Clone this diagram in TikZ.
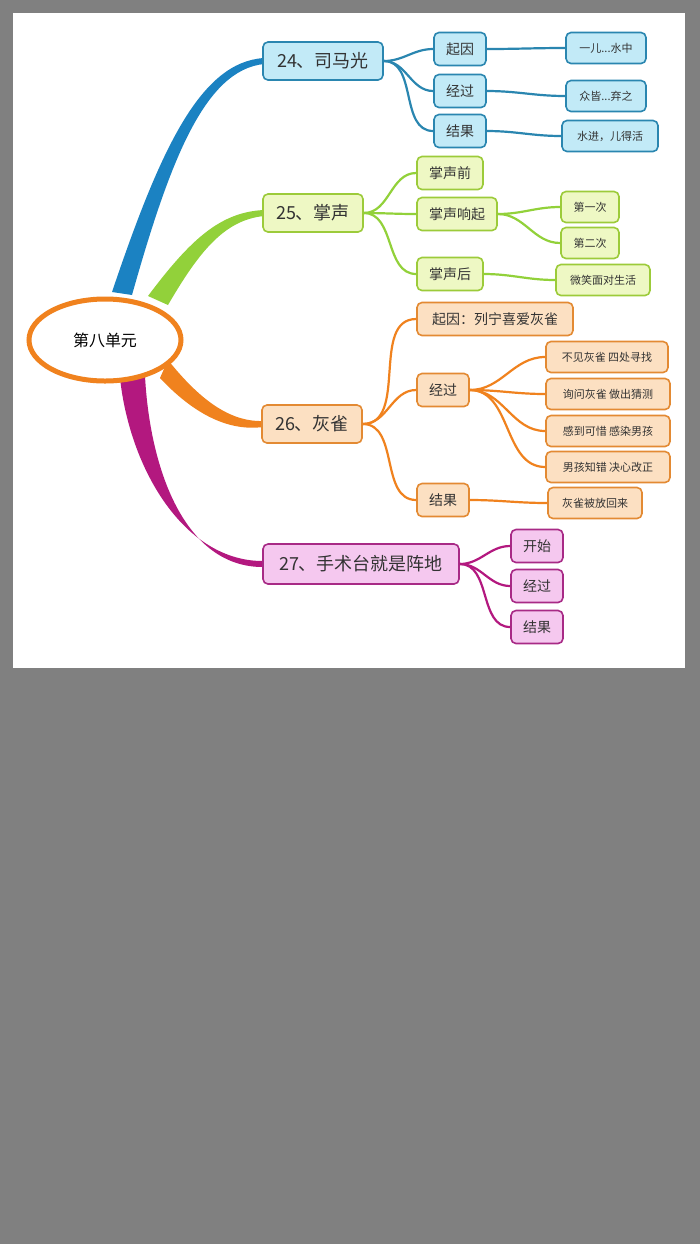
\documentclass[tikz,border=0pt]{standalone}
\usepackage{fontspec}
\setmainfont{Noto Sans CJK SC}
\usetikzlibrary{shapes.geometric}
\definecolor{bgc}{HTML}{808080}
\definecolor{bl}{HTML}{1B82C2}\definecolor{blf}{HTML}{C2EAF7}\definecolor{bld}{HTML}{2A86B0}
\definecolor{gr}{HTML}{92D13A}\definecolor{grf}{HTML}{EEF8C4}\definecolor{grd}{HTML}{9CCB3A}
\definecolor{or}{HTML}{F0821E}\definecolor{orf}{HTML}{FCE0C2}\definecolor{ord}{HTML}{E38A33}
\definecolor{mg}{HTML}{B3187F}\definecolor{mgf}{HTML}{F5C8EF}\definecolor{mgd}{HTML}{A82A86}
\tikzset{
 box/.style={rounded corners=2.5pt,line width=0.8pt,inner sep=0pt,text=black!80},
 main/.style={box,font=\fontsize{9}{10}\selectfont,minimum height=19pt},
 sub/.style={box,font=\fontsize{7}{8}\selectfont,minimum height=16.5pt},
 leaf/.style={box,font=\fontsize{5.5}{6}\selectfont,minimum height=15.5pt},
 B/.style={draw=bld,fill=blf},G/.style={draw=grd,fill=grf},O/.style={draw=ord,fill=orf},M/.style={draw=mgd,fill=mgf},
 lk/.style={line width=1.1pt}
}
\begin{document}
\begin{tikzpicture}[x=0.5pt,y=-0.5pt]
\fill[bgc] (0,0) rectangle (700,1244);
\fill[white] (13,13) rectangle (685,668);
% main branches (tapered)
\fill[bl] (112,292) .. controls (160,150) and (200,62) .. (264,58) -- (264,64) .. controls (205,70) and (170,160) .. (132,295) -- cycle;
\fill[gr] (148,296) .. controls (190,240) and (220,212) .. (264,210) -- (264,216) .. controls (225,220) and (200,250) .. (168,305) -- cycle;
\fill[or] (168,360) .. controls (200,400) and (230,422) .. (263,421) -- (263,427) .. controls (225,432) and (190,410) .. (160,378) -- cycle;
\fill[mg] (120,378) .. controls (130,470) and (185,562) .. (264,561) -- (264,567) .. controls (185,568) and (150,470) .. (145,376) -- cycle;
\node[ellipse,draw=or,line width=2.5pt,fill=white,minimum width=76pt,minimum height=41pt,font=\fontsize{8}{9}\selectfont] (c) at (105,340) {第八单元};
% nodes
\node[main,B,minimum width=60pt] (a) at (323,61) {24、司马光};
\node[sub,B,minimum width=26pt] (a1) at (460,49) {起因};
\node[sub,B,minimum width=26pt] (a2) at (460,91) {经过};
\node[sub,B,minimum width=26pt] (a3) at (460,131) {结果};
\node[leaf,B,minimum width=40pt] (a1x) at (606,48) {一儿...水中};
\node[leaf,B,minimum width=40pt] (a2x) at (606,96) {众皆...弃之};
\node[leaf,B,minimum width=48pt] (a3x) at (610,136) {水进，儿得活};
\node[main,G,minimum width=50pt] (b) at (313,213) {25、掌声};
\node[sub,G,minimum width=33pt] (b1) at (450,173) {掌声前};
\node[sub,G,minimum width=40pt] (b2) at (457,214) {掌声响起};
\node[sub,G,minimum width=33pt] (b3) at (450,274) {掌声后};
\node[leaf,G,minimum width=29pt] (b21) at (590,207) {第一次};
\node[leaf,G,minimum width=29pt] (b22) at (590,243) {第二次};
\node[leaf,G,minimum width=47pt] (b3x) at (603,280) {微笑面对生活};
\node[main,O,minimum width=50pt] (d) at (312,424) {26、灰雀};
\node[sub,O,minimum width=78pt] (d1) at (495,319) {起因：列宁喜爱灰雀};
\node[sub,O,minimum width=26pt] (d2) at (443,390) {经过};
\node[sub,O,minimum width=26pt] (d3) at (443,500) {结果};
\node[leaf,O,minimum width=61pt] (d21) at (607,357) {不见灰雀 四处寻找};
\node[leaf,O,minimum width=62pt] (d22) at (608,394) {询问灰雀 做出猜测};
\node[leaf,O,minimum width=62pt] (d23) at (608,431) {感到可惜 感染男孩};
\node[leaf,O,minimum width=62pt] (d24) at (608,467) {男孩知错 决心改正};
\node[leaf,O,minimum width=47pt] (d3x) at (595,503) {灰雀被放回来};
\node[main,M,minimum width=98pt,minimum height=20pt] (e) at (361,564) {27、手术台就是阵地};
\node[sub,M,minimum width=26pt] (e1) at (537,546) {开始};
\node[sub,M,minimum width=26pt] (e2) at (537,586) {经过};
\node[sub,M,minimum width=26pt] (e3) at (537,627) {结果};
% links
\begin{scope}[lk,draw=bld]
\foreach \t in {a1,a2,a3} \draw (a.east) to[out=0,in=180] (\t.west);
\draw (a1.east) to[out=0,in=180] (a1x.west);
\draw (a2.east) to[out=0,in=180] (a2x.west);
\draw (a3.east) to[out=0,in=180] (a3x.west);
\end{scope}
\begin{scope}[lk,draw=gr]
\foreach \t in {b1,b2,b3} \draw (b.east) to[out=0,in=180] (\t.west);
\draw (b2.east) to[out=0,in=180] (b21.west);
\draw (b2.east) to[out=0,in=180] (b22.west);
\draw (b3.east) to[out=0,in=180] (b3x.west);
\end{scope}
\begin{scope}[lk,draw=or]
\foreach \t in {d1,d2,d3} \draw (d.east) to[out=0,in=180] (\t.west);
\foreach \t in {d21,d22,d23,d24} \draw (d2.east) to[out=0,in=180] (\t.west);
\draw (d3.east) to[out=0,in=180] (d3x.west);
\end{scope}
\begin{scope}[lk,draw=mg]
\foreach \t in {e1,e2,e3} \draw (e.east) to[out=0,in=180] (\t.west);
\end{scope}
\end{tikzpicture}
\end{document}
